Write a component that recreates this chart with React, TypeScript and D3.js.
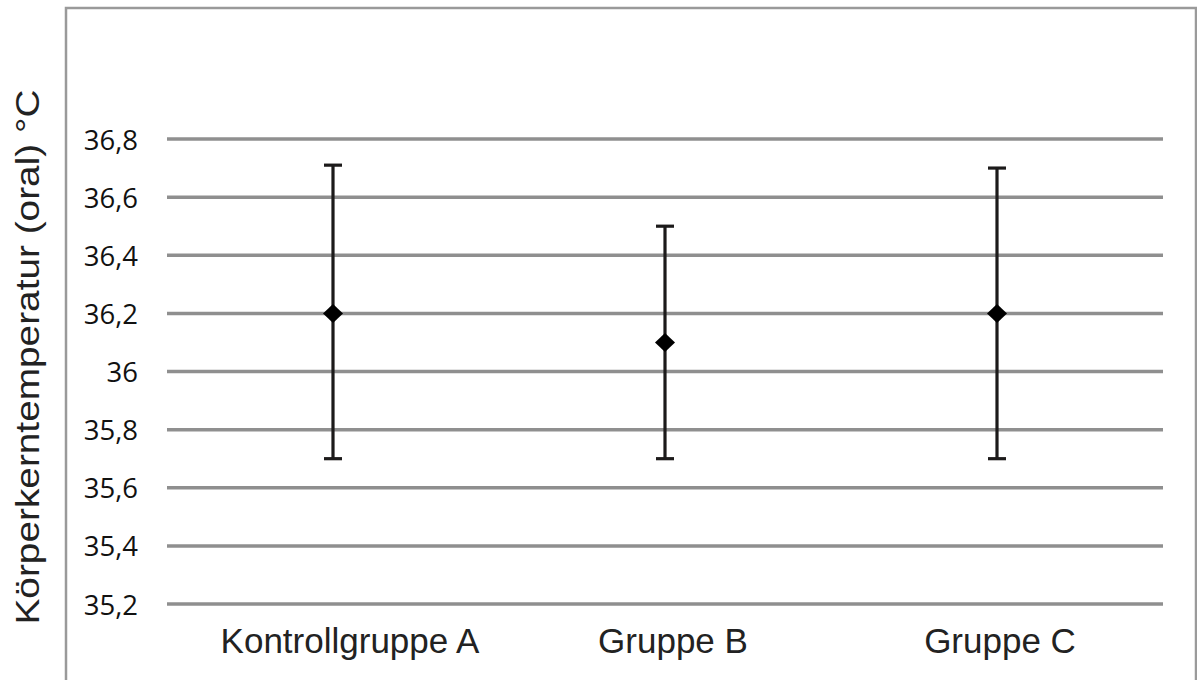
import React, { useEffect, useRef } from 'react';
import * as d3 from 'd3';

const categories = ['Kontrollgruppe A', 'Gruppe B', 'Gruppe C'];
const means = [36.2, 36.1, 36.2];
const lows = [35.7, 35.7, 35.7];
const highs = [36.71, 36.5, 36.7];
const yTicks = [35.2, 35.4, 35.6, 35.8, 36, 36.2, 36.4, 36.6, 36.8];

// labels in the original sit slightly right of their bars
const labelNudge = [17, 8, 3];

export default function App() {
  const svgRef = useRef<SVGSVGElement>(null);

  useEffect(() => {
    const svg = d3.select(svgRef.current);
    svg.selectAll('*').remove();

    const width = 1197;
    const height = 680;
    const plot = { left: 167, right: 1163, top: 139, bottom: 604 };

    svg.attr('width', width).attr('height', height);

    // outer frame (bottom runs off the picture)
    svg.append('path')
      .attr('d', `M66,${height + 5}V8H1196V${height + 5}`)
      .attr('fill', 'none')
      .attr('stroke', '#9a9a9a')
      .attr('stroke-width', 2.5);

    const x = d3.scaleBand()
      .domain(categories)
      .range([plot.left, plot.right]);

    const y = d3.scaleLinear()
      .domain([35.2, 36.8])
      .range([plot.bottom, plot.top]);

    // gridlines
    svg.append('g')
      .selectAll('line')
      .data(yTicks)
      .join('line')
      .attr('x1', plot.left)
      .attr('x2', plot.right)
      .attr('y1', d => y(d))
      .attr('y2', d => y(d))
      .attr('stroke', '#8f8f8f')
      .attr('stroke-width', 3.5);

    // tick labels
    const fmt = (d: number) => d3.format('.1~f')(d).replace('.', ',');
    svg.append('g')
      .selectAll('text')
      .data(yTicks)
      .join('text')
      .attr('x', 138)
      .attr('y', d => y(d))
      .attr('text-anchor', 'end')
      .attr('dominant-baseline', 'central')
      .attr('font-family', '"Open Sans", sans-serif')
      .attr('font-size', '27.5px')
      .attr('fill', '#111')
      .text(fmt);

    // category labels
    svg.append('g')
      .selectAll('text')
      .data(categories)
      .join('text')
      .attr('x', (d, i) => x(d)! + x.bandwidth() / 2 + labelNudge[i])
      .attr('y', 653)
      .attr('text-anchor', 'middle')
      .attr('font-family', '"Liberation Sans", Arial, sans-serif')
      .attr('font-size', '35px')
      .attr('fill', '#222')
      .text(d => d);

    // y axis title
    svg.append('text')
      .attr('transform', 'translate(39,357) rotate(-90)')
      .attr('text-anchor', 'middle')
      .attr('font-family', '"Liberation Sans", Arial, sans-serif')
      .attr('font-size', '34px')
      .attr('textLength', 535)
      .attr('lengthAdjust', 'spacingAndGlyphs')
      .attr('fill', '#222')
      .text('Körperkerntemperatur (oral) °C');

    // error bars
    const bars = svg.append('g');
    categories.forEach((c, i) => {
      const cx = x(c)! + x.bandwidth() / 2;
      const g = bars.append('g').attr('stroke', '#1c1a1a').attr('stroke-width', 3.2);
      g.append('line')
        .attr('x1', cx).attr('x2', cx)
        .attr('y1', y(highs[i])).attr('y2', y(lows[i]));
      [highs[i], lows[i]].forEach(v => {
        g.append('line')
          .attr('x1', cx - 9).attr('x2', cx + 9)
          .attr('y1', y(v)).attr('y2', y(v));
      });
      bars.append('path')
        .attr('transform', `translate(${cx},${y(means[i])})`)
        .attr('d', 'M0,-9.5L10,0L0,9.5L-10,0Z')
        .attr('fill', '#000');
    });
  }, []);

  return (
    <svg
      ref={svgRef}
      style={{ position: 'absolute', left: 0, top: 0, background: '#fff' }}
    />
  );
}
